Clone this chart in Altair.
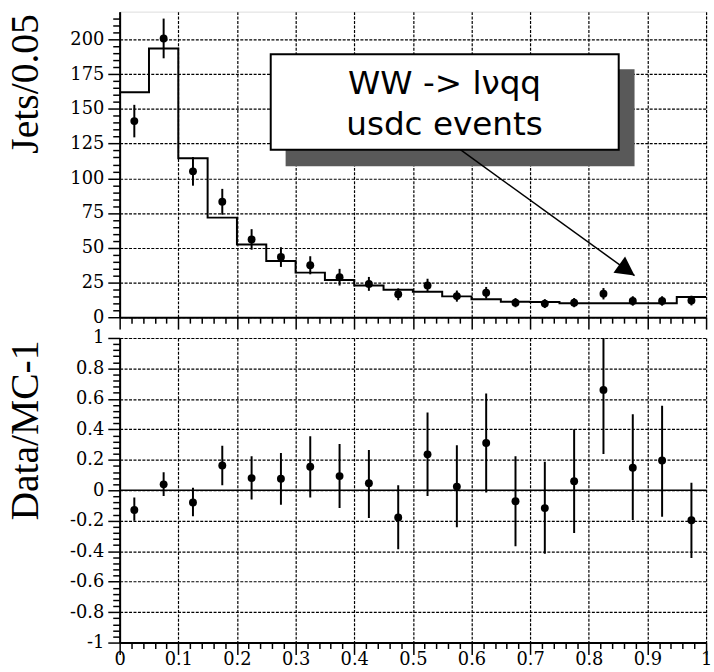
import altair as alt
import pandas as pd

# ---- data ----
bin_lo = [0.00, 0.05, 0.10, 0.15, 0.20, 0.25, 0.30, 0.35, 0.40, 0.45,
          0.50, 0.55, 0.60, 0.65, 0.70, 0.75, 0.80, 0.85, 0.90, 0.95]
mc = [162.0, 193.5, 114.5, 71.7, 52.4, 40.5, 32.1, 26.8, 22.9, 19.8,
      18.3, 15.0, 12.9, 11.1, 11.0, 10.0, 10.0, 10.0, 10.0, 14.5]
data = [141.2, 200.7, 105.0, 83.1, 56.0, 43.3, 37.4, 28.8, 24.0, 16.5,
        22.9, 15.2, 17.6, 10.5, 9.8, 10.5, 16.9, 11.7, 11.7, 12.0]
data_err = [11.7, 14.3, 10.3, 9.3, 7.4, 7.1, 6.5, 6.0, 5.0, 4.3,
            4.8, 4.0, 4.2, 3.3, 3.2, 3.3, 4.1, 3.4, 3.4, 3.5]
ratio = [-0.130, 0.039, -0.080, 0.163, 0.080, 0.076, 0.154, 0.093, 0.046, -0.178,
         0.236, 0.024, 0.310, -0.072, -0.117, 0.059, 0.659, 0.148, 0.195, -0.197]
ratio_hi = [-0.048, 0.119, 0.017, 0.293, 0.223, 0.245, 0.354, 0.304, 0.265, 0.033,
            0.510, 0.295, 0.636, 0.223, 0.187, 0.401, 1.080, 0.499, 0.555, 0.050]
ratio_lo = [-0.200, -0.037, -0.171, 0.033, -0.061, -0.095, -0.048, -0.117, -0.182, -0.388,
            -0.037, -0.243, -0.015, -0.367, -0.416, -0.280, 0.239, -0.195, -0.174, -0.445]

label_lines = ["WW -> l\u03bdqq", "usdc events"]
label_x = [0.554, 0.554]
label_y = [160.5, 131.3]
box = dict(x=0.2576, x2=0.851, y=189.3, y2=120.6)
shadow = dict(x=0.283, x2=0.878, y=178.6, y2=108.7)
arrow = dict(x=0.581, y=120.6, x2=0.878, y2=30.0)
arrow_angle = 35.7

BW = 0.05
centers = [b + BW / 2 for b in bin_lo]

hist_df = pd.DataFrame({"x": bin_lo + [1.0], "y": mc + [mc[-1]]})
pts_df = pd.DataFrame({
    "x": centers, "y": data,
    "lo": [d - e for d, e in zip(data, data_err)],
    "hi": [d + e for d, e in zip(data, data_err)],
})
ratio_df = pd.DataFrame({"x": centers, "y": ratio, "lo": ratio_lo, "hi": ratio_hi})
box_df = pd.DataFrame([box])
shadow_df = pd.DataFrame([shadow])
arrow_df = pd.DataFrame([arrow])
head_df = pd.DataFrame({"x": [arrow["x2"]], "y": [arrow["y2"]], "a": [arrow_angle]})
text_df = pd.DataFrame({"x": label_x, "y": label_y, "t": label_lines})
zero_df = pd.DataFrame({"y": [0.0]})

W = 593
XS = alt.Scale(domain=[0, 1], nice=False, zero=False)
YS_TOP = alt.Scale(domain=[0, 220], nice=False)
YS_BOT = alt.Scale(domain=[-1, 1], nice=False)

common = dict(
    labelFont="DejaVu Serif", labelFontSize=18, labelColor="black",
    labelOverlap=False, labelFlush=False, tickCount=200,
    tickColor="black", tickWidth=1.5,
    grid=True, gridColor="black", gridDash=[3, 1.5], gridWidth=1.2,
    domainColor="black", domainWidth=2,
    titleFont="Liberation Serif", titleFontSize=40, titleFontWeight="normal",
    titleColor="black",
)

x_ticks = [round(0.02 * i, 2) for i in range(51)]
x_major = "round(datum.value*50) % 5 === 0"


def x_axis(labels):
    return alt.Axis(
        values=x_ticks, title=None, labels=labels,
        labelExpr=f"{x_major} ? '' + round(datum.value*10)/10 : ''",
        labelPadding=-4,
        tickSize={"condition": {"test": x_major, "value": 12}, "value": 6},
        gridOpacity={"condition": {"test": x_major, "value": 1}, "value": 0},
        **common,
    )


yt_major = "datum.value % 25 === 0"
y_top_axis = alt.Axis(
    values=list(range(0, 216, 5)), title="Jets/0.05",
    titleAngle=270, titleAlign="right", titleBaseline="alphabetic",
    titleX=-83, titleY=2,
    labelExpr=f"{yt_major} ? '' + datum.value : ''",
    labelPadding=4,
    tickSize={"condition": {"test": yt_major, "value": 12}, "value": 7},
    gridOpacity={"condition": {"test": yt_major, "value": 1}, "value": 0},
    **common,
)

yb_major = "abs(round(datum.value*25)) % 5 === 0"
y_bot_axis = alt.Axis(
    values=[round(-1 + 0.04 * i, 2) for i in range(51)], title="Data/MC-1",
    titleAngle=270, titleAlign="right", titleBaseline="alphabetic",
    titleX=-83, titleY=2,
    labelExpr=f"{yb_major} ? '' + round(datum.value*10)/10 : ''",
    labelPadding=4,
    tickSize={"condition": {"test": yb_major, "value": 12}, "value": 7},
    gridOpacity={"condition": {"test": yb_major, "value": 1}, "value": 0},
    **common,
)

# ---- top panel ----
hist = alt.Chart(hist_df).mark_line(interpolate="step-after", color="black", strokeWidth=2).encode(
    x=alt.X("x:Q", scale=XS, axis=x_axis(False)),
    y=alt.Y("y:Q", scale=YS_TOP, axis=y_top_axis),
)
errs = alt.Chart(pts_df).mark_rule(color="black", strokeWidth=2).encode(
    x=alt.X("x:Q", scale=XS), y=alt.Y("lo:Q", scale=YS_TOP), y2="hi:Q")
pts = alt.Chart(pts_df).mark_point(shape="circle", filled=True, size=64, color="black", opacity=1).encode(
    x=alt.X("x:Q", scale=XS), y=alt.Y("y:Q", scale=YS_TOP))
shadow_m = alt.Chart(shadow_df).mark_rect(color="#595959").encode(
    x=alt.X("x:Q", scale=XS), x2="x2:Q", y=alt.Y("y:Q", scale=YS_TOP), y2="y2:Q")
arrow_m = alt.Chart(arrow_df).mark_rule(color="black", strokeWidth=1.5).encode(
    x=alt.X("x:Q", scale=XS), x2="x2:Q", y=alt.Y("y:Q", scale=YS_TOP), y2="y2:Q")
head_m = alt.Chart(head_df).mark_point(
    shape="M0,0 L-1,-0.53 L-1,0.53 Z", size=1444, filled=True, color="black", opacity=1, strokeWidth=0
).encode(x=alt.X("x:Q", scale=XS), y=alt.Y("y:Q", scale=YS_TOP), angle=alt.Angle("a:Q", scale=None))
box_m = alt.Chart(box_df).mark_rect(fill="white", stroke="black", strokeWidth=2).encode(
    x=alt.X("x:Q", scale=XS), x2="x2:Q", y=alt.Y("y:Q", scale=YS_TOP), y2="y2:Q")
text_m = alt.Chart(text_df).mark_text(
    font="DejaVu Sans", fontSize=33, color="black", align="center", baseline="alphabetic"
).encode(x=alt.X("x:Q", scale=XS), y=alt.Y("y:Q", scale=YS_TOP), text="t:N")

top = alt.layer(hist, errs, pts, shadow_m, arrow_m, head_m, box_m, text_m).properties(width=W, height=309)

# ---- bottom panel ----
zero_line = alt.Chart(zero_df).mark_rule(color="black", strokeWidth=1.5).encode(
    y=alt.Y("y:Q", scale=YS_BOT, axis=y_bot_axis),
    x=alt.value(0), x2=alt.value(W),
)
rerr = alt.Chart(ratio_df).mark_rule(color="black", strokeWidth=2, clip=True).encode(
    x=alt.X("x:Q", scale=XS, axis=x_axis(True)), y=alt.Y("lo:Q", scale=YS_BOT), y2="hi:Q")
rpts = alt.Chart(ratio_df).mark_point(shape="circle", filled=True, size=64, color="black", opacity=1).encode(
    x=alt.X("x:Q", scale=XS), y=alt.Y("y:Q", scale=YS_BOT))

bottom = alt.layer(zero_line, rerr, rpts).properties(width=W, height=308)

chart = alt.vconcat(top, bottom, spacing=21, bounds="flush").properties(
    padding={"left": 5, "top": 5, "right": 1, "bottom": 0}
).configure_view(stroke="black", strokeWidth=2).configure(background="white")

chart.save("out.html", embed_options={"renderer": "svg", "actions": False})
